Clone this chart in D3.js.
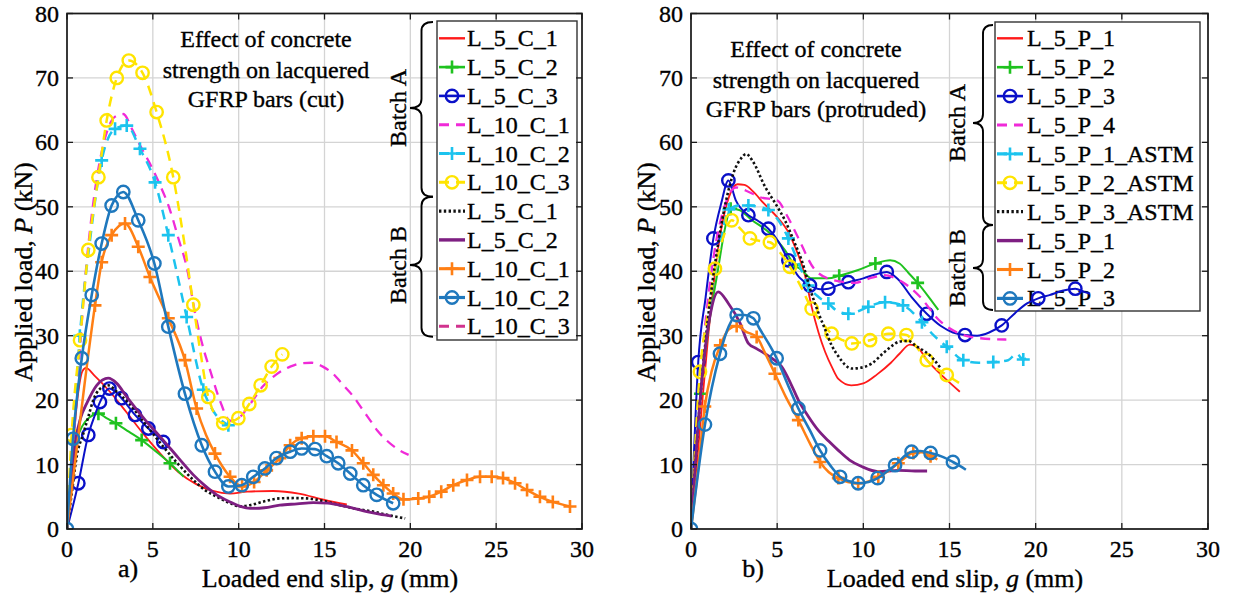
<!DOCTYPE html>
<html><head><meta charset="utf-8">
<script src="https://cdn.jsdelivr.net/npm/d3@7"></script>
<style>
body{margin:0;background:#fff}
svg{display:block}
</style>
</head><body>
<svg id="c" width="1234" height="601"></svg>
<script>
// ---------- ticks ----------
const xTickValues = [0, 5, 10, 15, 20, 25, 30];
const yTickValues = [0, 10, 20, 30, 40, 50, 60, 70, 80];

// ---------- legend labels ----------
const leftLegendLabels = ["L_5_C_1","L_5_C_2","L_5_C_3","L_10_C_1","L_10_C_2","L_10_C_3",
                          "L_5_C_1","L_5_C_2","L_10_C_1","L_10_C_2","L_10_C_3"];
const rightLegendLabels = ["L_5_P_1","L_5_P_2","L_5_P_3","L_5_P_4","L_5_P_1_ASTM","L_5_P_2_ASTM",
                           "L_5_P_3_ASTM","L_5_P_1","L_5_P_2","L_5_P_3"];
const leftNote = ["Effect of concrete", "strength on lacquered", "GFRP bars (cut)"];
const rightNote = ["Effect of concrete", "strength on lacquered", "GFRP bars (protruded)"];

// ---------- panel a) : cut bars ----------
const cutA_L5C1 = [[0,0],[0.3,11],[0.6,20],[0.9,24.5],[1.1,25],[1.6,23.8],[2.5,21.3],[3.5,18],[4.5,14.6],[5.5,11.5],[6.5,8.8],[7.5,7],[8.5,5.9],[9.5,5.5],[10.5,5.8],[12,5.9],[13.5,5.5],[15,4.5],[16.3,3.8]];
const cutA_L5C2 = [[0,0],[0.3,9],[0.6,14],[0.9,16],[1.3,17.3],[1.83,17.9],[2.3,17.2],[2.85,16.4],[3.6,15.1],[4.35,13.8],[5.2,12],[6.0,10.2],[6.8,8.1]];
const cutA_L5C2_marks = [[1.83,17.9],[2.85,16.4],[4.35,13.8],[6.0,10.2]];
const cutA_L5C3 = [[0,0],[0.66,7.1],[1.24,14.6],[1.6,17.5],[1.92,19.7],[2.47,21.8],[3.18,20.3],[3.96,17.7],[4.74,15.6],[5.61,13.5],[5.8,12.8]];
const cutA_L5C3_marks = [[0.66,7.1],[1.24,14.6],[1.92,19.7],[2.47,21.8],[3.18,20.3],[3.96,17.7],[4.74,15.6],[5.61,13.5]];
const cutA_L10C1 = [[0,0],[0.5,18],[1.05,38.6],[1.6,52],[2.2,60.5],[2.8,64],[3.28,64.4],[3.8,62],[4.3,59.3],[4.83,56.7],[5.4,53.5],[6.0,49.5],[6.5,45],[6.97,40.7],[7.5,33],[8.0,27.5],[8.33,24.7],[8.9,20],[9.5,16.8],[10.08,17.4],[10.7,19.5],[11.4,22.1],[12.2,24],[13.0,25.2],[13.6,25.7],[14.25,25.8],[14.9,25.2],[15.5,24.1],[16.1,22.3],[16.7,20.5],[17.2,18.6],[17.65,16.9],[18.1,15.2],[18.6,13.8],[19.2,12.5],[19.9,11.5]];
const cutA_L10C2 = [[0,0],[0.35,14],[0.75,30],[1.35,45],[2.02,57.2],[2.8,62.1],[3.48,62.6],[4.25,59],[5.13,53.8],[5.9,45.6],[6.97,32.9],[7.94,21.6],[8.6,18],[9.4,16.1],[9.6,15.8]];
const cutA_L10C2_marks = [[0.75,30],[2.02,57.2],[2.8,62.1],[3.48,62.6],[4.25,59],[5.13,53.8],[5.9,45.6],[6.97,32.9],[7.94,21.6],[9.4,16.1]];
const cutA_L10C3 = [[0,0],[0.27,14.6],[0.76,29.3],[1.24,43.3],[1.83,54.6],[2.31,63.4],[2.9,70],[3.6,72.7],[4.4,70.8],[5.22,64.7],[6.19,54.6],[6.8,45],[7.36,34.8],[7.8,27],[8.23,20.5],[9.1,16.4],[9.98,17.2],[10.62,19.4],[11.28,22.3],[11.92,25.2],[12.54,27.1]];
const cutA_L10C3_marks = [[0.27,14.6],[0.76,29.3],[1.24,43.3],[1.83,54.6],[2.31,63.4],[2.9,70],[3.6,72.7],[4.4,70.8],[5.22,64.7],[6.19,54.6],[7.36,34.8],[8.23,20.5],[9.1,16.4],[9.98,17.2],[10.62,19.4],[11.28,22.3],[11.92,25.2],[12.54,27.1]];
const cutB_L5C1 = [[0,0],[0.3,6],[0.56,11.2],[0.95,14.8],[1.25,17.5],[1.53,20],[1.9,21.7],[2.4,22.3],[2.9,21.3],[3.6,19.5],[4.5,16.5],[5.6,12.8],[6.5,10],[7.36,7.6],[8.0,6.1],[8.72,5.0],[9.5,4],[10.08,3.5],[10.66,3.7],[11.5,4.3],[12.4,4.75],[13.2,4.8],[13.96,4.75],[15,4.3],[15.9,3.7],[16.9,3.1],[17.84,2.7],[18.8,2.1],[19.7,1.65]];
const cutB_L5C2 = [[0,0],[0.2,6],[0.47,13.3],[0.8,17.3],[1.15,19.5],[1.73,22.3],[2.4,23.4],[2.9,22.6],[3.48,20.5],[4.5,17.1],[5.6,13.8],[6.5,11],[7.36,8.4],[8.0,6.8],[8.72,5.3],[9.5,4.2],[10.1,3.5],[10.66,3.2],[11.5,3.3],[12.4,3.7],[13.4,3.9],[14.35,4.1],[15.2,4.0],[15.9,3.7],[16.7,3.2],[17.46,2.7],[18.2,2.3],[18.9,2.0]];
const cutB_L10C1 = [[0,0],[0.5,11],[1.0,22],[1.63,34.7],[2.02,41.4],[2.6,45.6],[3.38,47.4],[4.15,43.8],[4.83,39.1],[5.9,32.7],[6.87,26.2],[7.55,18.7],[8.1,14.6],[8.62,11.7],[9.5,8.1],[10.2,6.6],[10.9,7.3],[11.63,9.1],[12.4,11],[13.0,13],[13.67,14.1],[14.35,14.4],[15.03,14.4],[15.7,13.5],[16.6,12.2],[17.26,10.2],[17.84,8.4],[18.43,6.8],[19.0,5.5],[19.6,4.6],[20.46,4.75],[21.1,5.0],[21.8,5.8],[22.5,6.8],[23.3,7.6],[24.06,8.1],[24.74,8.1],[25.4,7.9],[26.1,7.1],[26.8,6.05],[27.55,5.0],[28.3,4.2],[29.3,3.5]];
const cutB_L10C1_marks = [[1.63,34.7],[2.02,41.4],[2.6,45.6],[3.38,47.4],[4.15,43.8],[4.83,39.1],[5.9,32.7],[6.87,26.2],[7.55,18.7],[8.62,11.7],[9.5,8.1],[10.2,6.6],[10.9,7.3],[11.63,9.1],[12.4,11],[13.0,13],[13.67,14.1],[14.35,14.4],[15.03,14.4],[15.7,13.5],[16.6,12.2],[17.26,10.2],[17.84,8.4],[18.43,6.8],[19.0,5.5],[19.6,4.6],[20.46,4.75],[21.1,5.0],[21.8,5.8],[22.5,6.8],[23.3,7.6],[24.06,8.1],[24.74,8.1],[25.4,7.9],[26.1,7.1],[26.8,6.05],[27.55,5.0],[28.3,4.2],[29.3,3.5]];
const cutB_L10C2 = [[0,0],[0.35,14],[0.86,26.5],[1.44,36.3],[2.02,44.3],[2.6,50.2],[3.28,52.3],[4.15,47.9],[5.09,41.2],[5.9,31.4],[6.87,21],[7.85,13],[8.62,8.9],[9.4,6.6],[10.18,6.8],[10.85,8.1],[11.53,9.4],[12.2,11],[13.0,12],[13.67,12.5],[14.45,12.4],[15.13,11.3],[15.8,10.2],[16.5,8.6],[17.26,6.8],[18.04,5.3],[19.0,4.0]];
const cutB_L10C3 = [];

// ---------- panel b) : protruded bars ----------
const proA_L5P1 = [[0,0],[0.5,15],[1.0,30],[1.6,44],[2.2,51.5],[2.7,53.5],[3.1,53.4],[3.6,52.4],[4.2,50.6],[5.0,48.4],[5.6,46.3],[6.03,43.8],[6.6,39.5],[7.0,34.5],[7.4,30.5],[7.78,27.5],[8.2,25],[8.55,23.3],[9.3,22.3],[10,22.6],[10.8,24],[11.6,25.8],[12.1,27.2],[12.7,28.6],[13.1,28.3],[13.7,26.2],[14.65,23.6],[15.6,21.3]];
const proA_L5P2 = [[0,0],[0.55,21],[1.0,31],[1.55,40],[2.0,47],[2.3,49.7],[2.8,49.5],[3.5,48],[4.49,46.1],[5.45,43.3],[6.0,41],[6.42,40.2],[7.0,38.9],[7.97,38.9],[8.6,39.3],[9.7,40.2],[10.7,41.2],[11.55,41.7],[12.1,41.2],[12.6,39.8],[13.15,38.2],[13.8,36],[14.35,34]];
const proA_L5P2_marks = [[0.55,21],[2.3,49.7],[6.0,41],[8.6,39.3],[10.7,41.2],[13.15,38.2]];
const proA_L5P3 = [[0,0],[0.42,25.9],[0.85,36],[1.3,45.1],[1.75,50.5],[2.17,54.1],[2.6,51],[3.33,48.7],[3.9,47.8],[4.49,46.6],[5.1,44.5],[5.65,41.7],[6.3,39],[6.9,37.8],[7.5,37.2],[7.97,37.3],[8.6,37.9],[9.13,38.3],[10.0,38.9],[10.7,39.5],[11.36,39.9],[12.0,38.8],[12.8,36],[13.68,33.4],[14.5,31.5],[15.2,30.5],[15.9,30.1],[16.6,30],[17.3,30.5],[18.03,31.6],[18.8,33.5],[19.5,35],[20.15,35.8],[20.8,36.3],[21.6,37],[22.3,37.3],[22.8,36.8],[23.15,36.5]];
const proA_L5P3_marks = [[0.42,25.9],[1.3,45.1],[2.17,54.1],[3.33,48.7],[4.49,46.6],[5.65,41.7],[6.9,37.8],[7.97,37.3],[9.13,38.3],[11.36,39.9],[13.68,33.4],[15.9,30.1],[18.03,31.6],[20.15,35.8],[22.3,37.3]];
const proA_L5P4 = [[0,0],[0.6,25],[1.3,42],[2.0,50.5],[2.6,53],[3.2,52.5],[4.0,51.5],[5.0,51],[5.6,48.5],[6.2,45.3],[7.2,40.2],[8.3,38.6],[9.5,38.2],[10.5,39],[11.2,39.4],[12.1,38.6],[13.3,36],[14.4,32.4],[15.6,30.3],[16.8,29.6],[18.3,29.4]];
const proA_L5P1A = [[0,0],[0.5,20],[1.0,33],[1.6,43],[2.2,49.5],[2.8,50.2],[3.33,50.2],[3.9,50],[4.49,49.5],[5.1,47.8],[5.65,45.1],[6.2,41.5],[6.8,37.8],[7.4,36],[7.97,35],[8.5,33.8],[9.13,33.4],[9.7,33.8],[10.29,34.5],[11.26,35.2],[12.3,34.7],[13.4,32.1],[14.1,30],[14.84,28.3],[15.8,26.2],[16.7,25.8],[17.54,25.9],[18.4,26.2],[18.9,27.2],[19.28,26.3],[19.5,26.6]];
const proA_L5P1A_marks = [[2.2,49.6],[3.33,50.2],[4.49,49.5],[5.65,45.1],[6.8,37.8],[7.97,35],[9.13,33.4],[10.29,34.5],[11.26,35.2],[12.3,34.7],[13.4,32.1],[14.84,28.3],[15.8,26.2],[17.54,25.9],[19.28,26.3]];
const proA_L5P2A = [[0,0],[0.52,24.4],[0.95,33],[1.39,40.4],[1.9,45.5],[2.36,47.9],[2.9,46.5],[3.42,45.1],[4.0,44.7],[4.58,44.5],[5.2,42.8],[5.74,40.7],[6.4,37.5],[7.0,34.2],[7.6,32],[8.16,30.3],[8.8,29.3],[9.33,28.8],[10.39,29.3],[11.45,30.3],[12.5,30.1],[13.1,28.2],[13.68,26.2],[14.84,23.9],[15.6,22.6]];
const proA_L5P2A_marks = [[0.52,24.4],[1.39,40.4],[2.36,47.9],[3.42,45.1],[4.58,44.5],[5.74,40.7],[7.0,34.2],[8.16,30.3],[9.33,28.8],[10.39,29.3],[11.45,30.3],[12.5,30.1],[13.68,26.2],[14.84,23.9]];
const proA_L5P3A = [[0,0],[0.5,19],[1.0,33],[1.5,43],[2.0,50.5],[2.5,55.5],[2.9,57.5],[3.2,58.2],[3.6,57],[4.3,53.1],[4.9,50.5],[5.45,47.9],[6.0,44.5],[6.42,41.7],[7.0,36.5],[7.4,33.5],[7.78,31],[8.16,28.5],[8.55,26.8],[9.33,24.9],[9.8,25],[10.5,25.7],[11.16,27.3],[11.7,28.5],[12.1,29.1],[12.6,29.2],[13.1,28.3],[13.6,27.5],[14.06,26.4],[14.45,25.1]];
const proB_L5P1 = [[0,0],[0.3,12],[0.7,25],[1.1,33],[1.58,36.8],[2.17,35],[2.84,32],[3.33,28.8],[3.8,28],[4.3,27.2],[4.8,26.3],[5.26,25.2],[5.8,22.5],[6.23,20],[6.8,17.5],[7.39,15.3],[8.0,13.6],[8.55,12.2],[9.2,10.7],[9.9,9.7],[10.87,8.9],[12.03,9.1],[13.0,9.0],[13.7,9.0]];
const proB_L5P2 = [[0,0],[0.4,9],[0.8,19],[1.2,24.5],[1.7,28.5],[2.2,31],[2.65,31.5],[3.2,30.6],[3.81,29.8],[4.3,27.3],[4.87,24.1],[5.5,20.5],[6.23,16.9],[6.9,13.3],[7.49,10.4],[8.0,8.8],[8.55,7.9],[9.1,7.3],[9.7,7.1],[10.3,7.4],[10.87,8.1],[11.5,9.1],[12.03,10.2],[12.9,11.8],[13.4,11.9],[13.9,11.3],[14.3,10.8]];
const proB_L5P2_marks = [[0.8,19],[1.7,28.5],[2.65,31.5],[3.81,29.8],[4.87,24.1],[6.23,16.9],[7.49,10.4],[8.55,7.9],[9.7,7.1],[10.87,8.1],[12.03,10.2],[12.9,11.8],[13.9,11.3]];
const proB_L5P3 = [[0,0],[0.81,16.2],[1.68,27.2],[2.2,31.5],[2.65,33.2],[3.1,33.2],[3.62,32.7],[4.0,31],[4.5,28.8],[4.97,26.5],[5.6,22.5],[6.23,18.7],[6.9,15.3],[7.49,12.2],[8.1,9.8],[8.65,8.1],[9.2,7.4],[9.7,7.1],[10.3,7.3],[10.83,7.9],[11.3,8.8],[11.84,9.9],[12.3,11.1],[12.8,12.0],[13.3,12.1],[13.9,11.8],[14.6,11.2],[15.2,10.4],[15.6,9.8],[15.95,9.2]];
const proB_L5P3_marks = [[0,0],[0.81,16.2],[1.68,27.2],[2.65,33.2],[3.62,32.7],[4.97,26.5],[6.23,18.7],[7.49,12.2],[8.65,8.1],[9.7,7.1],[10.83,7.9],[11.84,9.9],[12.8,12.0],[13.9,11.8],[15.2,10.4]];

// ---------- styles ----------
const C = {red:"#ff1a1a", green:"#1fc21f", navy:"#0a10c8", magenta:"#f02ad8", cyan:"#1cc3ee",
           yellow:"#ffe400", black:"#111", purple:"#7e1f82", orange:"#ff7f14", steel:"#1f78bd", pink:"#d1338e"};
const DASH = "10,7", DOT = "2.4,2.4";

const leftSeries = [
  {line:cutA_L5C1, color:C.red, w:1.8},
  {line:cutA_L5C2, marks:cutA_L5C2_marks, color:C.green, w:2, mk:"+"},
  {line:cutA_L5C3, marks:cutA_L5C3_marks, color:C.navy, w:2, mk:"o"},
  {line:cutA_L10C1, color:C.magenta, w:2.3, dash:DASH},
  {line:cutA_L10C2, marks:cutA_L10C2_marks, color:C.cyan, w:2.5, dash:DASH, mk:"+"},
  {line:cutA_L10C3, marks:cutA_L10C3_marks, color:C.yellow, w:2.5, dash:DASH, mk:"o"},
  {line:cutB_L5C1, color:C.black, w:2.6, dash:DOT},
  {line:cutB_L5C2, color:C.purple, w:2.8},
  {line:cutB_L10C1, marks:cutB_L10C1_marks, color:C.orange, w:2.5, mk:"+"},
  {line:cutB_L10C2, marks:cutB_L10C2, color:C.steel, w:2.6, mk:"o"},
  {line:cutB_L10C3, color:C.pink, w:2.3, dash:DASH}
];
const rightSeries = [
  {line:proA_L5P1, color:C.red, w:1.8},
  {line:proA_L5P2, marks:proA_L5P2_marks, color:C.green, w:2, mk:"+"},
  {line:proA_L5P3, marks:proA_L5P3_marks, color:C.navy, w:2, mk:"o"},
  {line:proA_L5P4, color:C.magenta, w:2.3, dash:DASH},
  {line:proA_L5P1A, marks:proA_L5P1A_marks, color:C.cyan, w:2.5, dash:DASH, mk:"+"},
  {line:proA_L5P2A, marks:proA_L5P2A_marks, color:C.yellow, w:2.5, dash:DASH, mk:"o"},
  {line:proA_L5P3A, color:C.black, w:2.6, dash:DOT},
  {line:proB_L5P1, color:C.purple, w:2.8},
  {line:proB_L5P2, marks:proB_L5P2_marks, color:C.orange, w:2.5, mk:"+"},
  {line:proB_L5P3, marks:proB_L5P3_marks, color:C.steel, w:2.6, mk:"o"}
];

const svg = d3.select("#c");
const FONT = "Liberation Serif, Tinos, Times New Roman, DejaVu Serif, serif";

function txt(sel){
  return sel.style("font-family", FONT).style("fill", "#000")
    .style("stroke", "#000").style("stroke-width", "0.35px");
}

function marker(g, type, x, y, color){
  if(type === "o"){
    g.append("circle").attr("cx",x).attr("cy",y).attr("r",6.2)
      .attr("fill","none").attr("stroke",color).attr("stroke-width",2.4);
  } else if(type === "+"){
    g.append("path").attr("d",`M${x-6.5},${y}H${x+6.5}M${x},${y-6.5}V${y+6.5}`)
      .attr("stroke",color).attr("stroke-width",2.6).attr("fill","none");
  }
}

function brace(g, xEnd, xv, xTip, yTop, yMid, yBot){
  const r = 9;
  const d = `M${xEnd},${yTop} Q${xv},${yTop} ${xv},${yTop+r} L${xv},${yMid-r} Q${xv},${yMid} ${xTip},${yMid} Q${xv},${yMid} ${xv},${yMid+r} L${xv},${yBot-r} Q${xv},${yBot} ${xEnd},${yBot}`;
  g.append("path").attr("d",d).attr("fill","none").attr("stroke","#000").attr("stroke-width",1.9);
}

function panel(cfg){
  const g = svg.append("g");
  const x = d3.scaleLinear().domain([0,30]).range([cfg.x0, cfg.x1]);
  const y = d3.scaleLinear().domain([0,80]).range([529, 13.5]);
  const id = "clip" + cfg.key;
  svg.append("clipPath").attr("id", id).append("rect")
    .attr("x", cfg.x0).attr("y", 13.5).attr("width", cfg.x1 - cfg.x0).attr("height", 529 - 13.5);

  // grid
  g.append("g").selectAll("line").data(xTickValues).join("line")
    .attr("x1", d=>x(d)).attr("x2", d=>x(d)).attr("y1", y(0)).attr("y2", y(80))
    .attr("stroke","#d4d4d4").attr("stroke-width",1.3);
  g.append("g").selectAll("line").data(yTickValues).join("line")
    .attr("y1", d=>y(d)).attr("y2", d=>y(d)).attr("x1", cfg.x0).attr("x2", cfg.x1)
    .attr("stroke","#d4d4d4").attr("stroke-width",1.3);

  // legend box (white) drawn beneath curves
  const L = cfg.legend;
  g.append("rect").attr("x", L.x).attr("y", L.y).attr("width", L.w).attr("height", L.h)
    .attr("fill","#fff").attr("stroke","#333").attr("stroke-width",1.4);
  cfg.series.forEach((s, i) => {
    const ry = L.row0 + i * L.dy;
    const lg = g.append("g");
    lg.append("line").attr("x1", L.sx0).attr("x2", L.sx1).attr("y1", ry).attr("y2", ry)
      .attr("stroke", s.color).attr("stroke-width", s.w + 0.6)
      .attr("stroke-dasharray", s.dash || null);
    if (s.mk) marker(lg, s.mk, (L.sx0 + L.sx1) / 2, ry, s.color);
    txt(lg.append("text")).attr("x", L.tx).attr("y", ry + 8).attr("font-size", 24).text(cfg.labels[i]);
  });

  // braces + batch labels
  cfg.braces.forEach(b => {
    brace(g, b.xEnd, b.xv, b.xTip, b.yTop, b.yMid, b.yBot);
    txt(g.append("text")).attr("transform", `translate(${b.tx},${b.yMid}) rotate(-90)`)
      .attr("text-anchor","middle").attr("font-size",24).text(b.label);
  });

  // annotation
  cfg.note.forEach((t, i) => {
    txt(g.append("text")).attr("x", cfg.noteX).attr("y", cfg.noteY[i]).attr("text-anchor","middle")
      .attr("font-size",24).text(t);
  });

  // curves
  const lineGen = d3.line().x(d=>x(d[0])).y(d=>y(d[1])).curve(d3.curveMonotoneX);
  const cg = g.append("g").attr("clip-path", `url(#${id})`);
  cfg.series.forEach(s => {
    if (!s.line.length) return;
    cg.append("path").attr("d", lineGen(s.line)).attr("fill","none")
      .attr("stroke", s.color).attr("stroke-width", s.w)
      .attr("stroke-dasharray", s.dash || null).attr("stroke-linejoin","round");
    if (s.mk && s.marks) s.marks.forEach(p => marker(cg, s.mk, x(p[0]), y(p[1]), s.color));
  });

  // axes box and ticks
  g.append("rect").attr("x", cfg.x0).attr("y", 13.5).attr("width", cfg.x1 - cfg.x0).attr("height", 529 - 13.5)
    .attr("fill","none").attr("stroke","#1a1a1a").attr("stroke-width",1.7);
  const tl = 6;
  xTickValues.forEach(v => {
    g.append("line").attr("x1",x(v)).attr("x2",x(v)).attr("y1",529).attr("y2",529-tl).attr("stroke","#1a1a1a").attr("stroke-width",1.3);
    g.append("line").attr("x1",x(v)).attr("x2",x(v)).attr("y1",13.5).attr("y2",13.5+tl).attr("stroke","#1a1a1a").attr("stroke-width",1.3);
    txt(g.append("text")).attr("x", x(v)).attr("y", 557).attr("text-anchor","middle")
      .attr("font-size",24).text(v);
  });
  yTickValues.forEach(v => {
    g.append("line").attr("x1",cfg.x0).attr("x2",cfg.x0+tl).attr("y1",y(v)).attr("y2",y(v)).attr("stroke","#1a1a1a").attr("stroke-width",1.3);
    g.append("line").attr("x1",cfg.x1).attr("x2",cfg.x1-tl).attr("y1",y(v)).attr("y2",y(v)).attr("stroke","#1a1a1a").attr("stroke-width",1.3);
    txt(g.append("text")).attr("x", cfg.x0 - 8).attr("y", y(v) + 8).attr("text-anchor","end")
      .attr("font-size",24).text(v);
  });

  // axis titles
  const xt = txt(g.append("text")).attr("x", cfg.xTitleX).attr("y", 587).attr("text-anchor","middle")
    .attr("font-size",26);
  xt.append("tspan").text("Loaded end slip, ");
  xt.append("tspan").style("font-style","italic").text("g");
  xt.append("tspan").text(" (mm)");
  const yt = txt(g.append("text")).attr("transform", `translate(${cfg.yTitleX},272) rotate(-90)`)
    .attr("text-anchor","middle").attr("font-size",26);
  yt.append("tspan").text("Applied load, ");
  yt.append("tspan").style("font-style","italic").text("P");
  yt.append("tspan").text(" (kN)");

  txt(g.append("text")).attr("x", cfg.tagX).attr("y", 577).attr("text-anchor","middle")
    .attr("font-size",26).text(cfg.tag);
}

panel({
  key:"a", x0:67, x1:582, series:leftSeries, labels:leftLegendLabels,
  legend:{x:437, y:21, w:140, h:319, row0:38.3, dy:28.8, sx0:439, sx1:465, tx:467},
  braces:[
    {xEnd:433, xv:421.5, xTip:410, yTop:22, yMid:108, yBot:196.7, tx:406, label:"Batch A"},
    {xEnd:433, xv:421.5, xTip:410, yTop:196.7, yMid:265, yBot:336.7, tx:406, label:"Batch B"}
  ],
  note:leftNote, noteX:266, noteY:[47, 78, 107],
  xTitleX:330, yTitleX:32, tag:"a)", tagX:128
});
panel({
  key:"b", x0:691, x1:1208, series:rightSeries, labels:rightLegendLabels,
  legend:{x:995, y:22, w:205, h:289, row0:38.3, dy:28.9, sx0:997, sx1:1023, tx:1027},
  braces:[
    {xEnd:993, xv:983, xTip:973, yTop:25, yMid:123, yBot:225, tx:965, label:"Batch A"},
    {xEnd:993, xv:983, xTip:973, yTop:225, yMid:268, yBot:310, tx:965, label:"Batch B"}
  ],
  note:rightNote, noteX:816, noteY:[57, 88, 117],
  xTitleX:955, yTitleX:655, tag:"b)", tagX:753
});
</script>
</body></html>
